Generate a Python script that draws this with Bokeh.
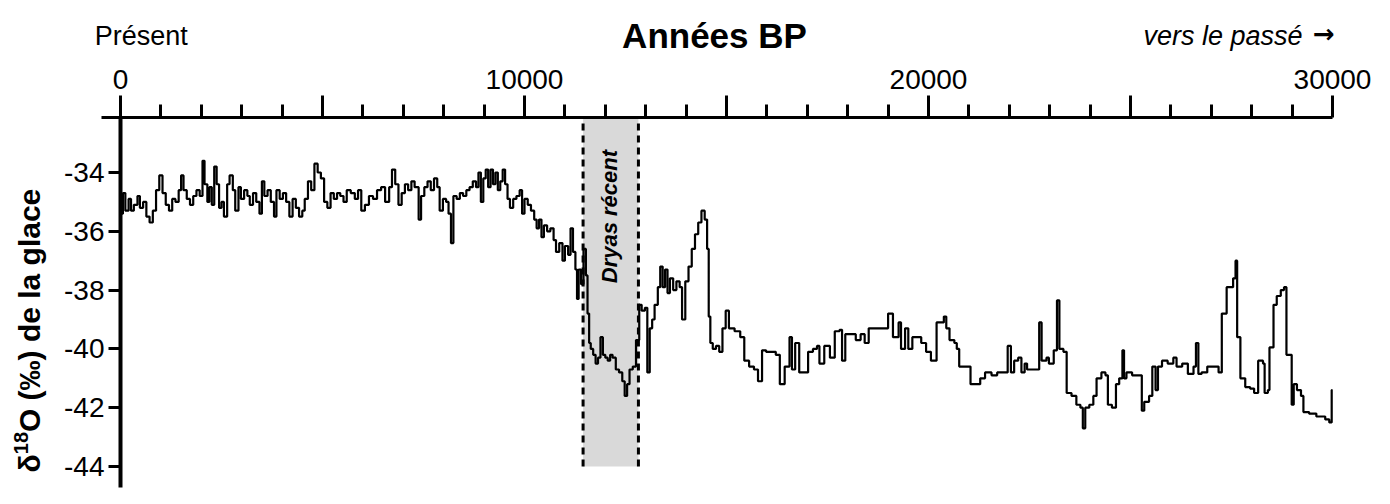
import numpy as np
from bokeh.plotting import figure
from bokeh.models import Range1d, LinearAxis, FixedTicker, Label
from bokeh.embed import file_html
from bokeh.resources import INLINE

# ---------------- data (years BP, delta18O permil) ----------------
age_holocene = [0, 60, 120, 200, 260, 330, 420, 480, 560, 640, 720, 800, 880, 960, 1040, 1120,
                1200, 1280, 1360, 1440, 1500, 1560, 1640, 1720, 1800, 1880, 1960, 2030, 2080, 2150,
                2200, 2260, 2320, 2380, 2440, 2500, 2560, 2640, 2700, 2780, 2840, 2920, 2980, 3060,
                3140, 3200, 3280, 3360, 3440, 3500, 3560, 3640, 3720, 3800, 3860, 3940, 4020, 4100,
                4180, 4260, 4340, 4420, 4500, 4560, 4640, 4720, 4800, 4880, 4960, 5040, 5120, 5200,
                5280, 5360, 5440, 5520, 5600, 5700, 5800, 5880, 5960, 6050, 6150, 6250, 6350, 6450,
                6550, 6650, 6720, 6800, 6880, 6960, 7040, 7120, 7200, 7280, 7380, 7440, 7520, 7600,
                7680, 7760, 7840, 7900, 7980, 8060, 8120, 8180, 8240, 8320, 8400, 8480, 8560, 8640,
                8720, 8800, 8860, 8920, 8980, 9040, 9100, 9160, 9220, 9280, 9340, 9400, 9460, 9520,
                9580, 9640, 9720, 9800, 9880, 9940, 10000, 10080, 10160, 10240, 10300, 10360, 10420,
                10480, 10560, 10640, 10720, 10780, 10860, 10940, 11000, 11080, 11140, 11200, 11260,
                11300, 11340, 11400, 11460]
d18o_holocene = [-35.4, -34.7, -35.3, -34.9, -35.3, -35.1, -34.8, -35.2, -35.0, -35.5, -35.7, -35.3,
                 -34.6, -34.1, -34.7, -35.1, -35.3, -34.9, -35.0, -34.6, -34.1, -34.6, -34.9, -35.1,
                 -34.8, -34.6, -34.8, -33.6, -34.4, -35.0, -34.5, -35.1, -33.8, -34.4, -35.2, -35.0,
                 -35.5, -34.4, -34.1, -34.6, -35.3, -34.5, -34.9, -34.6, -34.8, -35.1, -34.7, -35.0,
                 -35.4, -34.3, -34.8, -34.6, -35.0, -35.5, -34.6, -34.9, -34.7, -35.0, -35.5, -34.9,
                 -35.2, -35.5, -35.3, -34.9, -34.3, -34.6, -33.7, -34.0, -34.2, -35.0, -35.2, -34.7,
                 -34.9, -34.7, -34.8, -35.0, -34.6, -34.7, -34.9, -34.6, -35.3, -35.1, -34.8, -34.9,
                 -34.6, -34.5, -35.0, -34.5, -33.9, -34.4, -35.1, -34.7, -34.4, -34.6, -34.3, -34.5,
                 -35.6, -34.8, -34.5, -34.3, -34.6, -34.2, -34.5, -35.3, -34.9, -35.0, -35.4, -36.4,
                 -34.8, -34.9, -34.7, -34.8, -34.6, -34.5, -34.3, -34.5, -34.0, -35.0, -34.2, -33.9,
                 -34.5, -33.9, -34.4, -34.0, -34.6, -34.3, -33.9, -34.4, -34.9, -35.2, -34.9, -34.8,
                 -34.6, -35.4, -34.9, -35.1, -35.3, -35.6, -35.9, -35.6, -36.2, -35.8, -36.0, -35.9,
                 -36.3, -36.7, -36.4, -37.0, -36.5, -36.8, -35.9, -36.7, -37.3, -38.3, -37.3, -37.8,
                 -36.6]

age_dryas = [11520, 11560, 11600, 11640, 11700, 11760, 11820, 11880, 11940, 12000, 12060, 12120,
             12180, 12260, 12340, 12420, 12480, 12540, 12600, 12680, 12760, 12840]
d18o_dryas = [-37.5, -38.8, -39.8, -40.0, -40.2, -40.5, -40.3, -39.6, -40.2, -40.3, -40.4, -40.2,
              -40.3, -40.7, -40.8, -41.1, -41.6, -41.2, -40.7, -40.6, -39.7, -38.5]

age_glacial = [12900, 12980, 13040, 13100, 13160, 13220, 13300, 13360, 13420, 13480, 13540, 13600,
               13680, 13760, 13840, 13900, 13980, 14060, 14140, 14220, 14300, 14380, 14460, 14520,
               14560, 14600, 14660, 14740, 14820, 14900, 14980, 15060, 15200, 15340, 15440, 15560,
               15680, 15780, 15880, 15980, 16100, 16220, 16320, 16440, 16560, 16620, 16700, 16800,
               16920, 17020, 17140, 17240, 17300, 17420, 17560, 17680, 17800, 17860, 17940, 18080,
               18200, 18320, 18420, 18520, 18700, 18900, 19000, 19120, 19260, 19320, 19420, 19500,
               19600, 19700, 19820, 19940, 20060, 20200, 20380, 20440, 20520, 20640, 20700, 20760,
               20900, 21040, 21200, 21280, 21400, 21560, 21700, 21880, 21960, 22040, 22120, 22220,
               22300, 22380, 22440, 22620, 22740, 22800, 22920, 22980, 23100, 23180, 23240, 23340,
               23420, 23540, 23660, 23760, 23820, 23880, 23980, 24080, 24160, 24280, 24380, 24440,
               24540, 24640, 24720, 24800, 24840, 24900, 25040, 25200, 25280, 25340, 25460, 25540,
               25620, 25680, 25780, 25920, 26060, 26140, 26280, 26420, 26560, 26620, 26680, 26760,
               26900, 27060, 27180, 27260, 27380, 27540, 27600, 27640, 27720, 27840, 27960, 28060,
               28160, 28280, 28320, 28400, 28440, 28540, 28620, 28720, 28800, 28860, 28960, 28990,
               29040, 29120, 29220, 29280, 29420, 29600, 29820, 29920, 29980, 30000]
d18o_glacial = [-38.7, -38.6, -40.8, -39.3, -39.0, -38.5, -37.9, -37.2, -37.9, -37.3, -38.1, -37.6,
                -38.0, -37.7, -37.9, -39.0, -37.7, -37.2, -36.6, -36.1, -35.7, -35.3, -35.6, -36.6,
                -38.9, -39.8, -40.0, -39.9, -40.1, -39.3, -38.7, -39.3, -39.4, -39.6, -40.4, -40.6,
                -40.7, -41.1, -40.05, -40.1, -40.1, -40.2, -41.2, -40.6, -39.6, -40.7, -39.8, -40.8,
                -40.8, -40.1, -40.0, -39.9, -40.5, -39.9, -40.3, -39.4, -39.35, -40.4, -39.5, -39.5,
                -39.7, -39.5, -39.8, -39.3, -39.3, -39.3, -38.8, -39.6, -39.1, -40.0, -39.3, -40.0,
                -39.6, -39.6, -39.8, -40.1, -40.4, -39.1, -38.9, -39.3, -39.7, -39.8, -40.0, -40.6,
                -40.6, -41.2, -41.2, -41.0, -40.8, -40.9, -40.8, -40.8, -39.9, -40.8, -40.4, -40.3,
                -40.8, -40.5, -40.7, -40.7, -39.1, -40.4, -40.3, -40.5, -40.05, -38.35, -40.0, -40.1,
                -41.5, -41.6, -41.9, -42.0, -42.7, -42.0, -41.9, -41.6, -41.0, -40.8, -40.9, -41.9,
                -42.0, -41.2, -41.0, -40.05, -41.0, -40.8, -40.9, -40.9, -42.1, -41.8, -41.6, -40.6,
                -41.4, -40.6, -40.4, -40.5, -40.3, -40.6, -40.5, -40.85, -40.6, -39.8, -40.85, -40.8,
                -40.6, -40.6, -40.8, -38.8, -37.9, -37.6, -37.0, -39.6, -41.0, -41.3, -41.35, -41.5,
                -40.4, -40.5, -41.5, -41.4, -39.95, -38.5, -38.2, -38.0, -37.9, -40.2, -40.2, -41.9,
                -41.2, -41.4, -41.6, -42.15, -42.2, -42.3, -42.4, -42.5, -41.4, -41.4]

dryas_start, dryas_end = 11450, 12820
dryas_floor = -44
x_major_ticks = [0, 5000, 10000, 15000, 20000, 25000, 30000]
x_minor_ticks = [t for t in range(1000, 30000, 1000) if t % 5000 != 0]
x_hidden_labels = [5000, 15000, 25000]
y_ticks = [-44, -42, -40, -38, -36, -34]

FONT = "Liberation Sans"

age = age_holocene + age_dryas + age_glacial
d18o = d18o_holocene + d18o_dryas + d18o_glacial

# axis extents (data units)
x_axis_start, x_axis_end = -470, 30000
y_axis_bottom, y_axis_top = -44.714, -32.129

p = figure(width=1380, height=496, output_backend="svg", toolbar_location=None,
           x_range=Range1d(-2970.3, 31188.1), y_range=Range1d(-45.0204, -28.1497),
           x_axis_location=None, y_axis_location=None,
           min_border_left=0, min_border_right=0, min_border_top=0, min_border_bottom=0)
p.outline_line_color = None
p.grid.visible = False
p.background_fill_color = "white"
p.border_fill_color = "white"

# top axis, placed at the top of the data area
xa = LinearAxis(fixed_location=y_axis_top, bounds=(x_axis_start, x_axis_end),
                ticker=FixedTicker(ticks=x_major_ticks, minor_ticks=x_minor_ticks))
xa.major_label_overrides = {t: "" for t in x_hidden_labels}
xa.axis_line_width = 3
xa.axis_line_color = "black"
xa.major_tick_line_width = 3
xa.minor_tick_line_width = 3
xa.major_tick_in = 0
xa.major_tick_out = 22
xa.minor_tick_in = 0
xa.minor_tick_out = 13
xa.major_label_standoff = 6
xa.major_label_text_font = FONT
xa.major_label_text_font_size = "28px"
xa.major_label_text_color = "black"
p.add_layout(xa, "above")

# left axis at x = 0
ya = LinearAxis(fixed_location=0, bounds=(y_axis_bottom, y_axis_top),
                ticker=FixedTicker(ticks=y_ticks, minor_ticks=[]))
ya.major_label_overrides = {t: "-%d" % abs(t) for t in y_ticks}
ya.axis_line_width = 4
ya.axis_line_color = "black"
ya.major_tick_line_width = 3
ya.major_tick_in = 0
ya.major_tick_out = 12
ya.minor_tick_line_color = None
ya.major_label_standoff = 4
ya.major_label_text_font = FONT
ya.major_label_text_font_size = "28px"
ya.major_label_text_color = "black"
p.add_layout(ya, "left")

# Dryas récent band
p.quad(left=[dryas_start], right=[dryas_end], bottom=[dryas_floor], top=[y_axis_top],
       fill_color="#d9d9d9", line_color=None)

p.step(age, d18o, mode="after", line_width=2.2, line_color="black")

p.segment(x0=[dryas_start, dryas_end], y0=[dryas_floor, dryas_floor],
          x1=[dryas_start, dryas_end], y1=[y_axis_top, y_axis_top],
          line_color="black", line_width=3, line_dash="7 5")

# texts
p.add_layout(Label(x=12110, y=-35.5, text="Dryas récent", angle=np.pi / 2,
                   text_align="center", text_baseline="middle", text_font=FONT,
                   text_font_style="bold italic", text_font_size="22px", text_color="black"))
p.add_layout(Label(x=-640, y=-29.35, text="Présent", text_align="left", text_baseline="middle",
                   text_font=FONT, text_font_size="27px", text_color="black"))
p.add_layout(Label(x=14703, y=-29.35, text="Années BP", text_align="center", text_baseline="middle",
                   text_font=FONT, text_font_style="bold", text_font_size="35px", text_color="black"))
p.add_layout(Label(x=29260, y=-29.35, text="vers le passé", text_align="right",
                   text_baseline="middle", text_font=FONT, text_font_style="italic",
                   text_font_size="27px", text_color="black"))
p.add_layout(Label(x=29520, y=-29.3, text="→", text_align="left",
                   text_baseline="middle", text_font="DejaVu Sans", text_font_style="bold",
                   text_font_size="26px", text_color="black"))
# y title: δ, superscript 18, rest
p.add_layout(Label(x=-2260, y=-44.204, text="δ", angle=np.pi / 2,
                   text_align="left", text_baseline="middle", text_font=FONT,
                   text_font_style="bold", text_font_size="30px", text_color="black"))
p.add_layout(Label(x=-2460, y=-43.58, text="18", angle=np.pi / 2,
                   text_align="left", text_baseline="middle", text_font=FONT,
                   text_font_style="bold", text_font_size="20px", text_color="black"))
p.add_layout(Label(x=-2260, y=-42.83, text="O (‰) de la glace", angle=np.pi / 2,
                   text_align="left", text_baseline="middle", text_font=FONT,
                   text_font_style="bold", text_font_size="30px", text_color="black"))

open("out.html", "w").write(file_html(p, INLINE))
